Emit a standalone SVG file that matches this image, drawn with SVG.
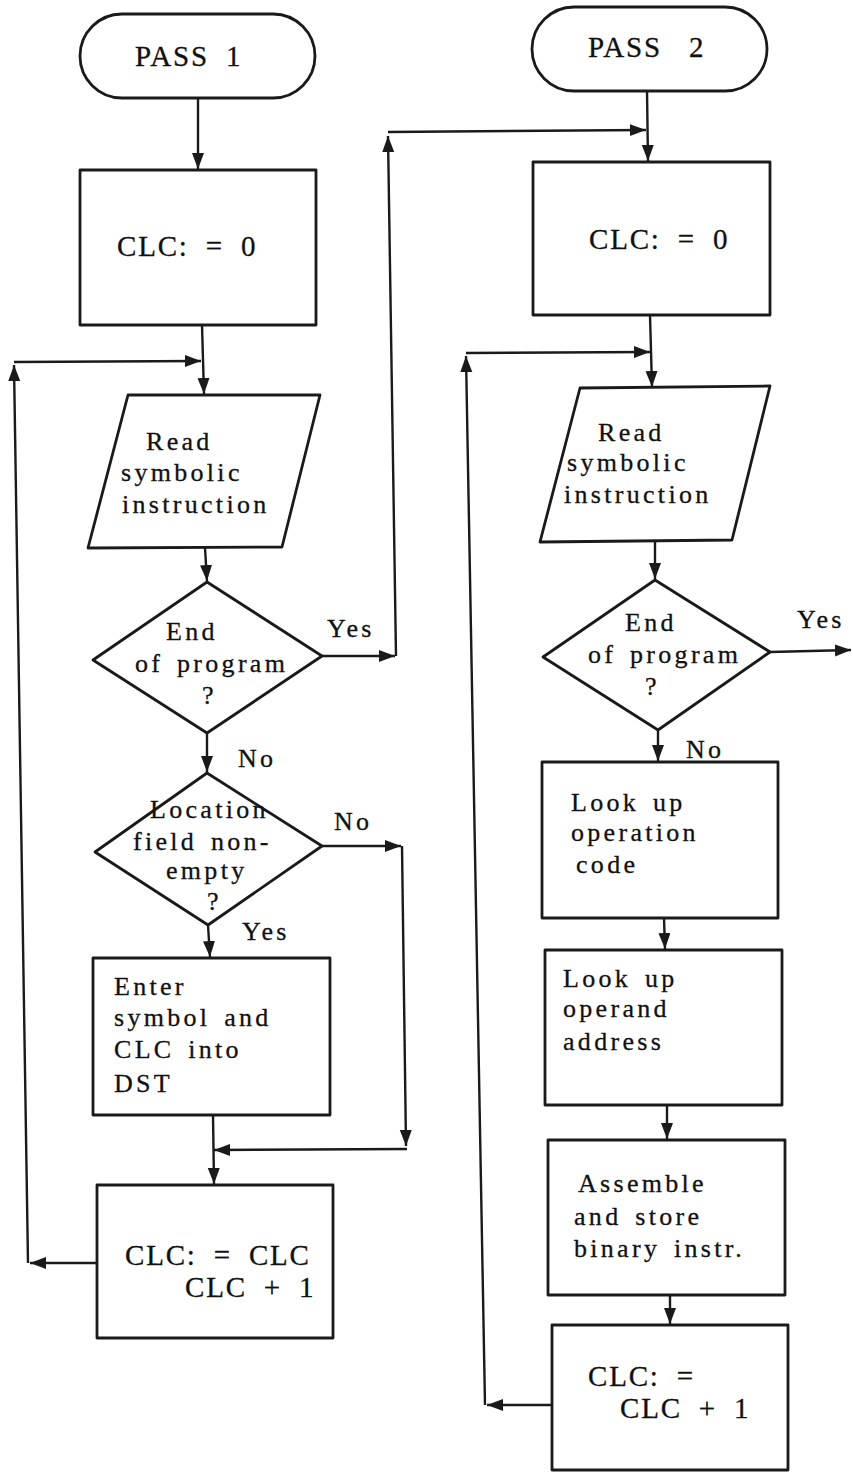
<svg xmlns="http://www.w3.org/2000/svg" width="853" height="1480" viewBox="0 0 853 1480">
<defs>
<style>
.s{fill:#fff;stroke:#1a1a1a;stroke-width:2.8;stroke-linejoin:round}
.c{fill:none;stroke:#1a1a1a;stroke-width:2.4}
.t{font-family:"Liberation Serif","Times New Roman",serif;font-size:26px;fill:#111;stroke:#111;stroke-width:0.3;letter-spacing:3.3px;word-spacing:4px}
.b{font-size:29px;letter-spacing:1.8px;word-spacing:8px}
</style>
<marker id="a" markerUnits="userSpaceOnUse" markerWidth="18" markerHeight="14" refX="16" refY="6" orient="auto">
<path d="M0,0 L16,6 L0,12 Z" fill="#1a1a1a"/>
</marker>
</defs>
<rect width="853" height="1480" fill="#fff"/>

<g id="connectors">
<line class="c" x1="198" y1="98" x2="198" y2="169" marker-end="url(#a)"/>
<line class="c" x1="202" y1="325" x2="204" y2="394" marker-end="url(#a)"/>
<line class="c" x1="97" y1="1263" x2="30" y2="1263" marker-end="url(#a)"/>
<line class="c" x1="28" y1="1263" x2="14" y2="365" marker-end="url(#a)"/>
<line class="c" x1="14" y1="362" x2="201" y2="361" marker-end="url(#a)"/>
<line class="c" x1="205" y1="548" x2="207" y2="581" marker-end="url(#a)"/>
<line class="c" x1="322" y1="656" x2="395" y2="656" marker-end="url(#a)"/>
<line class="c" x1="396" y1="656" x2="388" y2="136" marker-end="url(#a)"/>
<line class="c" x1="388" y1="132" x2="646" y2="130" marker-end="url(#a)"/>
<line class="c" x1="207" y1="733" x2="207" y2="772" marker-end="url(#a)"/>
<line class="c" x1="322" y1="846" x2="401" y2="846" marker-end="url(#a)"/>
<line class="c" x1="402" y1="846" x2="406" y2="1146" marker-end="url(#a)"/>
<line class="c" x1="407" y1="1149" x2="214" y2="1150" marker-end="url(#a)"/>
<line class="c" x1="208" y1="925" x2="210" y2="957" marker-end="url(#a)"/>
<line class="c" x1="213" y1="1115" x2="214" y2="1184" marker-end="url(#a)"/>
<line class="c" x1="647" y1="91" x2="648" y2="161" marker-end="url(#a)"/>
<line class="c" x1="650" y1="315" x2="652" y2="387" marker-end="url(#a)"/>
<line class="c" x1="552" y1="1405" x2="487" y2="1405" marker-end="url(#a)"/>
<line class="c" x1="485" y1="1405" x2="466" y2="356" marker-end="url(#a)"/>
<line class="c" x1="466" y1="353" x2="650" y2="352" marker-end="url(#a)"/>
<line class="c" x1="655" y1="540" x2="655" y2="579" marker-end="url(#a)"/>
<line class="c" x1="770" y1="652" x2="851" y2="650" marker-end="url(#a)"/>
<line class="c" x1="658" y1="730" x2="658" y2="761" marker-end="url(#a)"/>
<line class="c" x1="664" y1="918" x2="665" y2="949" marker-end="url(#a)"/>
<line class="c" x1="667" y1="1105" x2="667" y2="1139" marker-end="url(#a)"/>
<line class="c" x1="670" y1="1295" x2="670" y2="1324" marker-end="url(#a)"/>
</g>

<g id="pass1">
<rect class="s" x="80" y="14" width="235" height="84" rx="42"/>
<text class="t b" x="135" y="66">PASS 1</text>
</g>
<g id="clc0-1">
<rect class="s" x="80" y="170" width="236" height="155"/>
<text class="t b" x="117" y="256">CLC: = 0</text>
</g>
<g id="read1">
<polygon class="s" points="128,395 320,395 282,547 88,548"/>
<text class="t"><tspan x="146" y="450">Read</tspan><tspan x="121" y="481">symbolic</tspan><tspan x="122" y="513">instruction</tspan></text>
</g>
<g id="end1">
<polygon class="s" points="207,582 322,656 207,733 93,660"/>
<text class="t"><tspan x="166" y="640">End</tspan><tspan x="135" y="672">of program</tspan><tspan x="202" y="704">?</tspan></text>
<text class="t" x="327" y="637">Yes</text>
<text class="t" x="238" y="767">No</text>
</g>
<g id="loc1">
<polygon class="s" points="207,773 322,846 208,925 95,852"/>
<text class="t"><tspan x="150" y="818">Location</tspan><tspan x="133" y="850">field non-</tspan><tspan x="166" y="879">empty</tspan><tspan x="207" y="910">?</tspan></text>
<text class="t" x="334" y="830">No</text>
<text class="t" x="242" y="940">Yes</text>
</g>
<g id="enter1">
<rect class="s" x="93" y="958" width="237" height="157"/>
<text class="t"><tspan x="114" y="995">Enter</tspan><tspan x="114" y="1026">symbol and</tspan><tspan x="114" y="1058">CLC into</tspan><tspan x="114" y="1092">DST</tspan></text>
</g>
<g id="inc1">
<rect class="s" x="97" y="1185" width="236" height="153"/>
<text class="t b"><tspan x="125" y="1265">CLC: = CLC</tspan><tspan x="185" y="1297">CLC + 1</tspan></text>
</g>

<g id="pass2">
<rect class="s" x="532" y="7" width="235" height="84" rx="42"/>
<text class="t b" x="588" y="57" style="word-spacing:18px">PASS 2</text>
</g>
<g id="clc0-2">
<rect class="s" x="533" y="162" width="237" height="153"/>
<text class="t b" x="589" y="249">CLC: = 0</text>
</g>
<g id="read2">
<polygon class="s" points="580,388 770,386 732,540 540,542"/>
<text class="t"><tspan x="598" y="441">Read</tspan><tspan x="567" y="471">symbolic</tspan><tspan x="564" y="503">instruction</tspan></text>
</g>
<g id="end2">
<polygon class="s" points="655,580 770,652 658,730 543,657"/>
<text class="t"><tspan x="625" y="631">End</tspan><tspan x="588" y="663">of program</tspan><tspan x="645" y="695">?</tspan></text>
<text class="t" x="797" y="628">Yes</text>
<text class="t" x="686" y="758">No</text>
</g>
<g id="opcode2">
<rect class="s" x="542" y="762" width="236" height="156"/>
<text class="t"><tspan x="571" y="811">Look up</tspan><tspan x="571" y="841">operation</tspan><tspan x="576" y="873">code</tspan></text>
</g>
<g id="operand2">
<rect class="s" x="545" y="950" width="237" height="155"/>
<text class="t"><tspan x="563" y="987">Look up</tspan><tspan x="563" y="1017">operand</tspan><tspan x="563" y="1050">address</tspan></text>
</g>
<g id="assemble2">
<rect class="s" x="548" y="1140" width="237" height="155"/>
<text class="t"><tspan x="578" y="1192">Assemble</tspan><tspan x="574" y="1225">and store</tspan><tspan x="574" y="1257">binary instr.</tspan></text>
</g>
<g id="inc2">
<rect class="s" x="552" y="1325" width="236" height="145"/>
<text class="t b"><tspan x="588" y="1386">CLC: =</tspan><tspan x="620" y="1418">CLC + 1</tspan></text>
</g>
</svg>
